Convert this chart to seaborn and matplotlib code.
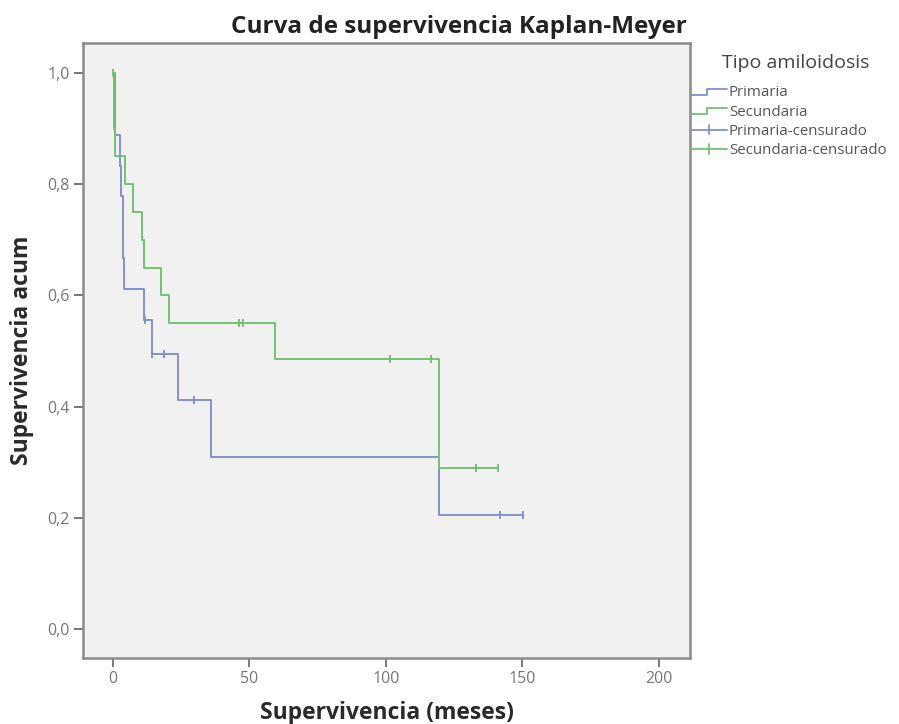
import numpy as np
import pandas as pd
import matplotlib
matplotlib.use("Agg")
import matplotlib.pyplot as plt
from matplotlib.lines import Line2D
from matplotlib.legend_handler import HandlerBase
from matplotlib.ticker import FuncFormatter
import seaborn as sns

# ---- data ----
prim_times = [0, 0.7, 2.5, 2.8, 3.5, 3.8, 4.2, 11.5, 14.2, 23.7, 35.8, 119.5, 150.4]
prim_surv = [1.0, 0.889, 0.833, 0.778, 0.722, 0.667, 0.611, 0.556, 0.494, 0.412, 0.309, 0.206, 0.206]
prim_cens_t = [11.7, 14.2, 18.6, 29.6, 142.0, 150.4]
prim_cens_s = [0.556, 0.494, 0.494, 0.412, 0.206, 0.206]

sec_times = [0, 0.3, 0.5, 0.8, 4.4, 7.5, 10.6, 11.2, 17.5, 20.4, 59.5, 119.5, 141.0]
sec_surv = [1.0, 0.95, 0.90, 0.85, 0.80, 0.75, 0.70, 0.65, 0.60, 0.55, 0.485, 0.29, 0.29]
sec_cens_t = [0.0, 46.0, 47.8, 101.4, 116.4, 133.0, 141.0]
sec_cens_s = [1.0, 0.55, 0.55, 0.485, 0.485, 0.29, 0.29]

groups = ["Primaria", "Secundaria"]
legend_title = "Tipo amiloidosis"
legend_labels = ["Primaria", "Secundaria", "Primaria-censurado", "Secundaria-censurado"]
x_ticks = [0, 50, 100, 150, 200]
y_ticks = [0.0, 0.2, 0.4, 0.6, 0.8, 1.0]

BLUE = "#8192cb"
GREEN = "#72c272"
palette = {"Primaria": BLUE, "Secundaria": GREEN}

curves = pd.concat([
    pd.DataFrame({"t": prim_times, "s": prim_surv, "g": groups[0]}),
    pd.DataFrame({"t": sec_times, "s": sec_surv, "g": groups[1]}),
], ignore_index=True)
cens = pd.concat([
    pd.DataFrame({"t": prim_cens_t, "s": prim_cens_s, "g": groups[0]}),
    pd.DataFrame({"t": sec_cens_t, "s": sec_cens_s, "g": groups[1]}),
], ignore_index=True)

sns.set_theme(style="white")
plt.rcParams["font.family"] = ["Open Sans", "DejaVu Sans"]

fig = plt.figure(figsize=(8.99, 7.24), dpi=100)
ax = fig.add_axes([83 / 899, 1 - 658 / 724, (690 - 83) / 899, (658 - 43) / 724])
ax.set_facecolor("#f1f1f1")

for g in groups:
    sub = curves[curves["g"] == g]
    sns.lineplot(data=sub, x="t", y="s", ax=ax, color=palette[g], lw=1.4,
                 drawstyle="steps-post", estimator=None, sort=False, legend=False)
    subc = cens[cens["g"] == g]
    sns.scatterplot(data=subc, x="t", y="s", ax=ax, color=palette[g], marker="|",
                    s=40, linewidth=1.4, legend=False, zorder=3)

ax.set_xlim(-11, 211.5)
ax.set_ylim(-0.052, 1.054)
ax.set_xticks(x_ticks)
ax.set_yticks(y_ticks)
ax.yaxis.set_major_formatter(FuncFormatter(lambda v, p: f"{v:.1f}".replace(".", ",")))
ax.tick_params(axis="both", which="major", direction="out", length=6.5, width=1.4,
               color="#777777", labelcolor="#777777", labelsize=11.5,
               left=True, bottom=True, pad=3)
for sp in ax.spines.values():
    sp.set_color("#8a8a8a")
    sp.set_linewidth(1.8)
ax.grid(False)

ax.set_xlabel("Supervivencia (meses)", fontsize=16.5, fontweight="bold", color="#2a2a2a", labelpad=10)
ax.set_ylabel("Supervivencia acum", fontsize=16.5, fontweight="bold", color="#2a2a2a", labelpad=10)
fig.text(0.51, 1 - 27 / 724, "Curva de supervivencia Kaplan-Meyer", ha="center", va="center",
         fontsize=17.5, fontweight="bold", color="#222222")


class StepHandler(HandlerBase):
    def create_artists(self, legend, orig_handle, xdescent, ydescent, width, height, fontsize, trans):
        x0 = -xdescent
        y0 = -ydescent
        xs = [x0, x0 + width * 0.45, x0 + width * 0.45, x0 + width]
        ys = [y0 + height * 0.15, y0 + height * 0.15, y0 + height * 0.75, y0 + height * 0.75]
        ln = Line2D(xs, ys, color=orig_handle.get_color(), lw=1.3, transform=trans)
        return [ln]


class CensorHandler(HandlerBase):
    def create_artists(self, legend, orig_handle, xdescent, ydescent, width, height, fontsize, trans):
        x0 = -xdescent
        y0 = -ydescent
        ym = y0 + height / 2
        ln = Line2D([x0, x0 + width], [ym, ym], color=orig_handle.get_color(), lw=1.3, transform=trans)
        tk = Line2D([x0 + width / 2] * 2, [ym - height * 0.45, ym + height * 0.45],
                    color=orig_handle.get_color(), lw=1.3, transform=trans)
        return [ln, tk]


class StepH(Line2D):
    pass


class CensH(Line2D):
    pass


fig.text(796 / 899, 1 - 63 / 724, legend_title, ha="center", va="center",
         fontsize=14, color="#444444")

handles = [StepH([], [], color=BLUE), StepH([], [], color=GREEN),
           CensH([], [], color=BLUE), CensH([], [], color=GREEN)]
leg = fig.legend(handles, legend_labels, loc="upper left",
                 bbox_to_anchor=(689 / 899, 1 - 84 / 724), frameon=False,
                 fontsize=10.8,
                 handler_map={StepH: StepHandler(), CensH: CensorHandler()},
                 handlelength=2.4, handletextpad=0.15, labelspacing=0.28,
                 borderaxespad=0, borderpad=0.1)
for t in leg.get_texts():
    t.set_color("#555555")

fig.savefig("out.png", dpi=100)
